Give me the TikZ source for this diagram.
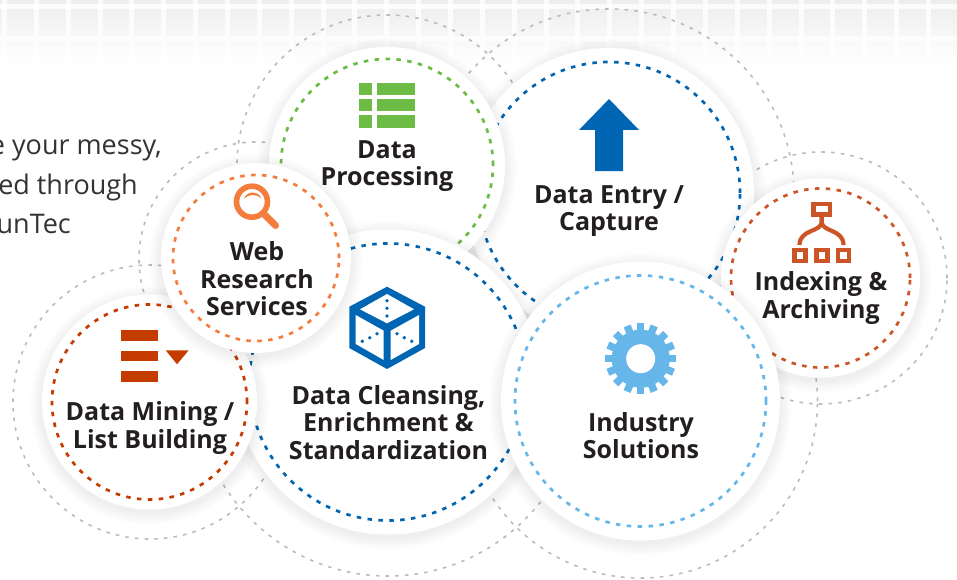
\documentclass[tikz,border=0pt]{standalone}
\usepackage{fontspec}
\setmainfont{Open Sans}
\definecolor{cmine}{HTML}{C43C00}
\definecolor{cindex}{HTML}{CB5526}
\definecolor{cweb}{HTML}{F47C3C}
\definecolor{cproc}{HTML}{6CBB45}
\definecolor{cblue}{HTML}{0065B3}
\definecolor{csky}{HTML}{66B6E9}
\definecolor{cink}{HTML}{231F20}
\definecolor{cbody}{HTML}{333333}
\definecolor{cring}{HTML}{BBBBBB}
\tikzset{
  halo/.style={circle,draw=cring,line width=1.6pt,dash pattern=on 3.5pt off 6.2pt,inner sep=0pt,outer sep=0pt},
  disc/.style={circle,fill=white,inner sep=0pt,outer sep=0pt},
  ringline/.style={circle,draw=#1,line width=2.7pt,dash pattern=on 4.5pt off 6.4pt,inner sep=0pt,outer sep=0pt},
  lab/.style={font=\fontsize{25}{27.5}\selectfont\bfseries,text=cink,align=center,anchor=base,inner sep=0pt},
  bodytext/.style={font=\fontsize{27}{40}\selectfont,text=cbody,anchor=base east,inner sep=0pt}
}
\newcommand{\bubble}[6]{% name, x, y, R, r, colour
  \foreach \i in {1,...,8}{
    \fill[black,opacity=.008] (#2,#3+3) circle[radius=#4pt+1.5pt*\i];
  }
  \node[disc,minimum size=2*#4 pt] (#1disc) at (#2,#3) {};
  \node[ringline=#6,minimum size=2*#5 pt] (#1ring) at (#2,#3) {};
}
\begin{document}
\begin{tikzpicture}[x=1pt,y=-1pt]
\useasboundingbox (0,0) rectangle (957,580);
% tiled header
\shade[top color=black!7,bottom color=white] (0,0) rectangle (957,64);
\foreach \k in {0,...,30}{
  \fill[white,opacity=.8] ({2+31.86*\k},0) rectangle ({7+31.86*\k},64);
}
\fill[white,opacity=.8] (0,4) rectangle (957,9);
\fill[white,opacity=.8] (0,36) rectangle (957,41);
% left text
\node[bodytext] (t1) at (162,154) {e your messy,};
\node[bodytext] (t2) at (138,194) {ed through};
\node[bodytext] (t3) at (71,233.5) {unTec};
% outer dashed rings
\node[halo,minimum size=300pt] (h1) at (387,165) {};
\node[halo,minimum size=370pt] (h2) at (609,194) {};
\node[halo,minimum size=234pt] (h3) at (256,259) {};
\node[halo,minimum size=274pt] (h4) at (150,402) {};
\node[halo,minimum size=388pt] (h5) at (388,382) {};
\node[halo,minimum size=354pt] (h6) at (640.5,401) {};
\node[halo,minimum size=252pt] (h7) at (821,278) {};
% discs
\bubble{entry}{609}{193}{145}{131}{cblue}
\bubble{proc}{387}{165}{118}{106}{cproc}
\bubble{clean}{388}{382}{152.5}{138.5}{cblue}
\bubble{mine}{149.5}{402}{107.5}{97.5}{cmine}
\bubble{web}{256}{258}{95}{83}{cweb}
\bubble{index}{820.5}{278}{99.5}{89.5}{cindex}
\bubble{ind}{640.5}{401}{139.5}{125.5}{csky}
% processing icon
\begin{scope}[cproc]
\foreach \a/\b in {83/95,99/111,115/128}{
  \fill (359,\a) rectangle (372,\b);
  \fill (377,\a) rectangle (415,\b);
}
\end{scope}
% entry icon
\fill[cblue] (609,99) -- (639,130) -- (623,130) -- (623,171) -- (595,171) -- (595,130) -- (579,130) -- cycle;
% web icon
\draw[cweb,line width=5.6pt] (252,201.7) circle[radius=15.5];
\draw[cweb,line width=7pt,line cap=round] (265,215) -- (275.5,225.5);
\fill[cweb] (244,198.5) .. controls (247,190.5) and (258,190.5) .. (261.7,198.5) .. controls (257,193.8) and (249,193.8) .. cycle;
% cleansing icon
\fill[cblue] (387,286.7) -- (425,306.7) -- (425,348) -- (387,369) -- (349.3,348) -- (349.3,306.7) -- cycle;
\fill[white] (360,309.3) -- (387,294) -- (414,309.3) -- (387,323.3) -- cycle;
\fill[white] (355.7,315) -- (383.7,330.7) -- (383.7,360) -- (355.7,344) -- cycle;
\fill[white] (390.7,330.7) -- (419,315) -- (419,344) -- (390.7,360) -- cycle;
\foreach \x/\y in {387/300.7,387/308.3,387/316,362.3/341.3,369.7/337.7,377/333.7,397/333.7,404.3/337.7,411.7/341.3}{
  \fill[cblue] (\x,\y) circle[radius=1.9];
}
% gear icon
\fill[csky] (640.7,358.7) circle[radius=29];
\foreach \a in {0,22.5,...,337.5}{
  \fill[csky,shift={(640.7,358.7)},rotate=\a] (-3.7,-26) rectangle (3.7,-35.5);
}
\fill[white] (640.7,358.7) circle[radius=14.5];
% indexing icon
\fill[cindex] (811,201.7) rectangle (832.3,216.7);
\fill[white] (815.7,205.7) rectangle (827.7,211.7);
\draw[cindex,line width=4.2pt] (821.7,216) -- (821.7,222) .. controls (821.7,232) and (799.5,229) .. (799.5,245);
\draw[cindex,line width=4.2pt] (821.7,216) -- (821.7,222) .. controls (821.7,232) and (843.5,229) .. (843.5,245);
\foreach \l/\r in {792.3/807.7,814.3/829.7,835.7/851}{
  \fill[cindex] (\l,247.7) rectangle (\r,263.3);
  \fill[white] (\l+4.4,252.2) rectangle (\r-4.4,258.6);
}
% mining icon
\foreach \a/\b in {330.3/341,351/361.3,371.3/382}{
  \fill[cmine] (121,\a) rectangle (158.3,\b);
}
\fill[cmine] (165.7,350.3) -- (188.7,350.3) -- (177,364.3) -- cycle;
% labels
\node[lab] (lproc) at (387,185.5) {Data\\Processing};
\node[lab] (lentry) at (609,230.5) {Data Entry /\\Capture};
\node[lab] (lweb) at (257,315.5) {Web\\Research\\Services};
\node[lab] (lclean) at (388.5,459) {Data Cleansing,\\Enrichment \&\\Standardization};
\node[lab] (lmine) at (150,448) {Data Mining /\\List Building};
\node[lab] (lind) at (641,458.5) {Industry\\Solutions};
\node[lab] (lindex) at (821,318) {Indexing \&\\Archiving};
\end{tikzpicture}
\end{document}
